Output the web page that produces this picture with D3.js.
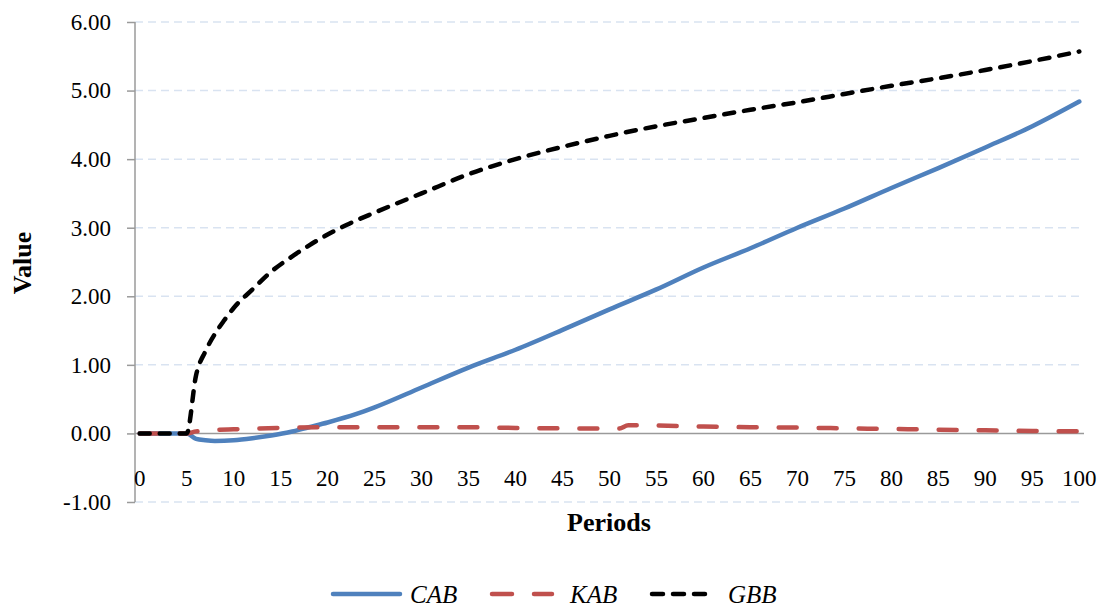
<!DOCTYPE html>
<html><head><meta charset="utf-8">
<script src="https://cdn.jsdelivr.net/npm/d3@7"></script>
<style>
body{margin:0;background:#fff;}
text{font-family:"Liberation Serif","DejaVu Serif",serif;}
</style></head>
<body><svg id="c" width="1101" height="607"></svg>
<script>
const periodsCAB = [0,1,2,3,4,5,6,7,8,10,12,14,16,18,20,23,25,30,35,40,45,50,55,60,65,70,75,80,85,90,95,100];
const valuesCAB  = [0,0,0,0,0,0,-0.08,-0.1,-0.11,-0.1,-0.07,-0.03,0.02,0.09,0.16,0.28,0.38,0.67,0.96,1.22,1.51,1.81,2.1,2.42,2.7,3.0,3.28,3.58,3.87,4.17,4.48,4.84];
const periodsKAB = [0,1,2,3,4,5,6,8,10,15,20,25,30,35,40,45,50,51,52,55,60,65,70,75,80,85,90,95,100];
const valuesKAB  = [0,0,0,0,0,0,0.03,0.05,0.06,0.08,0.09,0.09,0.09,0.09,0.08,0.075,0.07,0.07,0.12,0.115,0.1,0.09,0.085,0.075,0.065,0.055,0.045,0.035,0.03];
const periodsGBB = [0,1,2,3,4,5,6,7,8,9,10,12,14,16,18,20,22,25,28,30,35,40,45,50,55,60,65,70,75,80,85,90,95,100];
const valuesGBB  = [0,0,0,0,0,0,0.85,1.2,1.45,1.65,1.83,2.1,2.36,2.56,2.74,2.9,3.04,3.22,3.39,3.5,3.78,4.0,4.18,4.34,4.48,4.6,4.72,4.83,4.95,5.07,5.18,5.3,5.43,5.57];
const yTicks = [-1,0,1,2,3,4,5,6];
const xTickLabels = [0,5,10,15,20,25,30,35,40,45,50,55,60,65,70,75,80,85,90,95,100];
const seriesNames = ["CAB","KAB","GBB"];

const svg = d3.select("#c");
const pL = 135, pR = 1084, pT = 22, pB = 502;
const y = d3.scaleLinear().domain([-1,6]).range([pB, pT]);
const step = (pR-pL)/101;
const x = d3.scaleLinear().domain([0,100]).range([pL+step/2, pR-step/2]);

// gridlines
svg.append("g").selectAll("line").data(yTicks.filter(d=>d!==0)).join("line")
  .attr("x1",pL).attr("x2",pR).attr("y1",d=>y(d)).attr("y2",d=>y(d))
  .attr("stroke","#d9e3f1").attr("stroke-width",1.5).attr("stroke-dasharray","8,5");

// y axis
const fmt = d3.format(".2f");
const yAxis = d3.axisLeft(y).tickValues(yTicks).tickFormat(d=>fmt(d).replace("\u2212","-")).tickSize(8).tickPadding(16);
const gy = svg.append("g").attr("transform",`translate(${pL},0)`).call(yAxis);
gy.select(".domain").attr("stroke","#9a9a9a").attr("stroke-width",1.5).attr("d",`M0,${pB}V${pT}`);
gy.selectAll(".tick line").attr("stroke","#9a9a9a").attr("stroke-width",1.5);
gy.selectAll(".tick text").attr("font-size",23).attr("fill","#000").attr("font-family","Liberation Serif");

// x axis at zero
svg.append("line").attr("x1",pL).attr("x2",pR).attr("y1",y(0)).attr("y2",y(0))
  .attr("stroke","#9a9a9a").attr("stroke-width",1.5);
svg.append("g").selectAll("text").data(xTickLabels).join("text")
  .attr("x",d=>x(d)).attr("y",486).attr("text-anchor","middle")
  .attr("font-size",23).text(d=>d);

// axis titles
svg.append("text").attr("x",609).attr("y",531).attr("text-anchor","middle")
  .attr("font-size",26).attr("font-weight","bold").text("Periods");
svg.append("text").attr("transform","translate(31,263) rotate(-90)").attr("text-anchor","middle")
  .attr("font-size",26).attr("font-weight","bold").text("Value");

const line = d3.line().x(d=>x(d[0])).y(d=>y(d[1])).curve(d3.curveMonotoneX);
const styles = {
  CAB:{color:"#4f81bd",dash:null},
  KAB:{color:"#c0504d",dash:"18,22"},
  GBB:{color:"#000000",dash:"10,10"}
};
const data = {
  CAB: periodsCAB.map((p,i)=>[p,valuesCAB[i]]),
  KAB: periodsKAB.map((p,i)=>[p,valuesKAB[i]]),
  GBB: periodsGBB.map((p,i)=>[p,valuesGBB[i]])
};
seriesNames.forEach(n=>{
  svg.append("path").attr("d",line(data[n])).attr("fill","none")
    .attr("stroke",styles[n].color).attr("stroke-width",4.5)
    .attr("stroke-linecap","round").attr("stroke-linejoin","round")
    .attr("stroke-dasharray",styles[n].dash);
});

// legend
const legendPos = [{n:"CAB",x1:333,x2:400,tx:410},{n:"KAB",x1:492,x2:552,tx:570},{n:"GBB",x1:652,x2:712,tx:728}];
legendPos.forEach(l=>{
  svg.append("line").attr("x1",l.x1).attr("x2",l.x2).attr("y1",594).attr("y2",594)
    .attr("stroke",styles[l.n].color).attr("stroke-width",4.5).attr("stroke-linecap","round")
    .attr("stroke-dasharray",l.n==="KAB"?"20,22":(l.n==="GBB"?"11,10":null));
  svg.append("text").attr("x",l.tx).attr("y",603).attr("font-size",25).attr("font-style","italic").text(l.n);
});
</script></body></html>
